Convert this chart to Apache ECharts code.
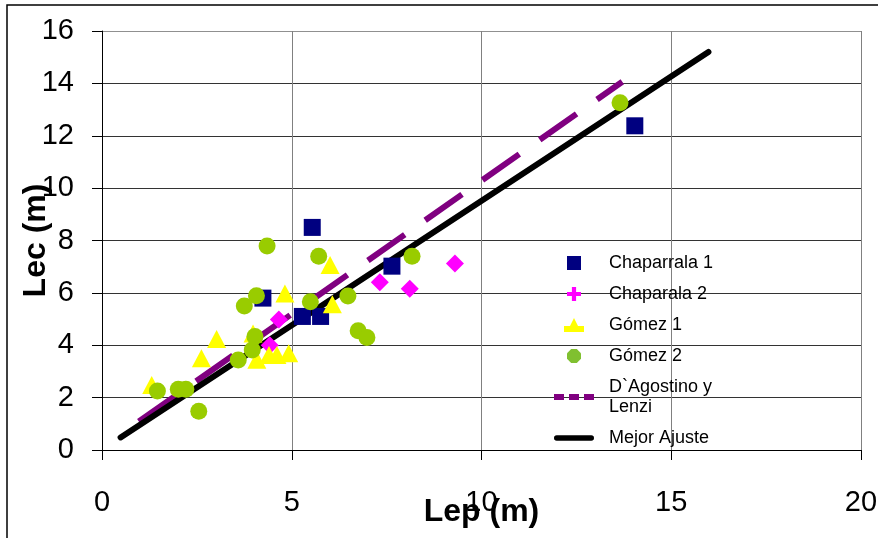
<!DOCTYPE html>
<html>
<head>
<meta charset="utf-8">
<script src="https://cdn.jsdelivr.net/npm/echarts@6/dist/echarts.min.js"></script>
<style>
  html, body { margin: 0; padding: 0; background: #fff; }
  #chart { width: 878px; height: 538px; }
</style>
</head>
<body>
<div id="chart"></div>
<script>
// Lep (m), Lec (m)
var chaparrala1 = [[5.54, 8.50], [4.24, 5.80], [7.64, 7.02], [5.28, 5.10], [5.76, 5.10], [14.04, 12.38]];
var chaparrala2 = [[9.30, 7.12], [7.32, 6.41], [8.11, 6.16], [4.66, 4.98], [4.42, 4.00]];
var gomez1 = [[6.01, 7.06], [4.82, 5.98], [6.07, 5.57], [3.02, 4.24], [2.62, 3.50], [1.31, 2.48],
              [3.98, 4.45], [4.08, 3.45], [4.40, 3.63], [4.61, 3.63], [4.92, 3.69]];
var gomez2 = [[4.35, 7.79], [5.71, 7.40], [8.17, 7.40], [4.07, 5.89], [3.75, 5.50], [5.49, 5.66],
              [6.48, 5.88], [6.75, 4.55], [6.98, 4.30], [4.03, 4.33], [3.96, 3.82], [3.59, 3.44],
              [1.46, 2.25], [2.01, 2.32], [2.21, 2.32], [2.55, 1.48], [13.65, 13.26]];
var dagostino = [[0.97, 1.09], [13.71, 14.06]];
var mejorAjuste = [[0.49, 0.48], [15.98, 15.20]];

var fuente = 'Liberation Sans, Arial, sans-serif';
// iconos de la leyenda
var iconCuadro = 'path://M0,0H10V10H0Z';
var iconCruz = 'path://M3.5,0H6.5V3.5H10V6.5H6.5V10H3.5V6.5H0V3.5H3.5Z';
var iconTriangulo = 'path://M5,0L7,4H10V7H0V4H3Z';
var iconCirculo = 'path://M3,0H7L10,3V7L7,10H3L0,7V3Z';
var iconGuiones = 'path://M0,0H10V6H0Z M15,0H25V6H15Z M30,0H40V6H30Z';
var iconLinea = 'path://M1,0H39A3,3 0 0 1 39,6H1A3,3 0 0 1 1,0Z';

var chart = echarts.init(document.getElementById('chart'));
var option = {
    backgroundColor: '#fff',
    animation: false,
    graphic: [{
        type: 'rect',
        shape: { x: 7, y: 5, width: 900, height: 600 },
        style: { fill: 'none', stroke: '#000', lineWidth: 1.5 },
        silent: true
    }],
    grid: { left: 102, right: 17, top: 31, bottom: 88, outerBoundsMode: 'none', containLabel: false },
    legend: {
        orient: 'vertical',
        left: 549,
        top: 248,
        itemWidth: 40,
        itemHeight: 14,
        itemGap: 11,
        textStyle: { fontFamily: fuente, fontSize: 18, lineHeight: 20, color: '#000', padding: [0, 0, 0, 10] },
        data: [
            { name: 'Chaparrala 1', icon: iconCuadro },
            { name: 'Chaparala 2', icon: iconCruz },
            { name: 'Gómez 1', icon: iconTriangulo },
            { name: 'Gómez 2', icon: iconCirculo, itemStyle: { color: '#80c030' } },
            { name: 'D`Agostino y\nLenzi', icon: iconGuiones },
            { name: 'Mejor Ajuste', icon: iconLinea }
        ]
    },
    xAxis: {
        type: 'value',
        min: 0, max: 20, interval: 5,
        name: 'Lep (m)',
        nameLocation: 'middle',
        nameGap: 46,
        nameMoveOverlap: false,
        nameTextStyle: { fontFamily: fuente, fontSize: 32, fontWeight: 'bold', color: '#000' },
        axisLine: { show: true, lineStyle: { color: '#000', width: 1 } },
        axisTick: { show: true, inside: false, length: 10, lineStyle: { color: '#000' } },
        axisLabel: { fontFamily: fuente, fontSize: 29, color: '#000', margin: 38 },
        splitLine: { show: true, lineStyle: { color: '#808080', width: 1 } }
    },
    yAxis: {
        type: 'value',
        min: 0, max: 16, interval: 2,
        name: 'Lec (m)',
        nameLocation: 'middle',
        nameGap: 50,
        nameMoveOverlap: false,
        nameTextStyle: { fontFamily: fuente, fontSize: 32, fontWeight: 'bold', color: '#000' },
        axisLine: { show: true, lineStyle: { color: '#000', width: 1 } },
        axisTick: { show: true, inside: false, length: 10, lineStyle: { color: '#000' } },
        axisLabel: { fontFamily: fuente, fontSize: 29, color: '#000', margin: 28 },
        splitLine: {
            show: true,
            lineStyle: {
                color: ['#333', '#333', '#333', '#333', '#333', '#333', '#333', '#333', '#909090'],
                width: 1
            }
        }
    },
    series: [
        {
            name: 'D`Agostino y\nLenzi',
            type: 'line',
            data: dagostino,
            symbol: 'none',
            z: 2,
            lineStyle: { color: '#800080', width: 6, type: [45, 25], cap: 'butt' },
            itemStyle: { color: '#800080' }
        },
        {
            name: 'Mejor Ajuste',
            type: 'line',
            data: mejorAjuste,
            symbol: 'none',
            z: 3,
            lineStyle: { color: '#000', width: 6, cap: 'round' },
            itemStyle: { color: '#000' }
        },
        {
            name: 'Chaparrala 1',
            type: 'scatter',
            data: chaparrala1,
            symbol: 'rect',
            symbolSize: 17,
            z: 4,
            itemStyle: { color: '#000080', opacity: 1 }
        },
        {
            name: 'Chaparala 2',
            type: 'scatter',
            data: chaparrala2,
            symbol: 'diamond',
            symbolSize: [18, 18],
            z: 5,
            itemStyle: { color: '#ff00ff', opacity: 1 }
        },
        {
            name: 'Gómez 1',
            type: 'scatter',
            data: gomez1,
            symbol: 'triangle',
            symbolSize: [19, 18],
            z: 6,
            itemStyle: { color: '#ffff00', opacity: 1 }
        },
        {
            name: 'Gómez 2',
            type: 'scatter',
            data: gomez2,
            symbol: 'circle',
            symbolSize: 17,
            z: 7,
            itemStyle: { color: '#99cc00', opacity: 1 }
        }
    ]
};
chart.setOption(option);
</script>
</body>
</html>
